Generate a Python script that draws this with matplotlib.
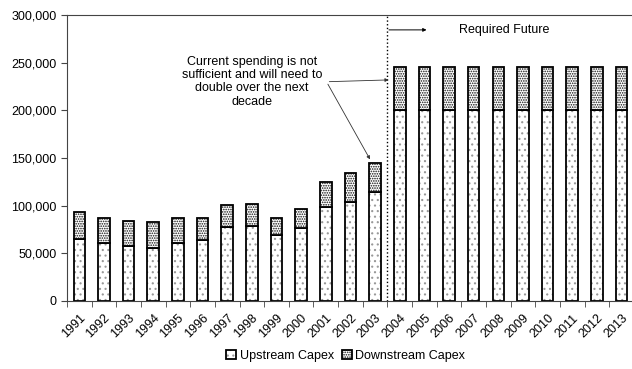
import numpy as np
import matplotlib.pyplot as plt
from matplotlib.ticker import FuncFormatter, MultipleLocator

years = [str(y) for y in range(1991, 2014)]
upstream = [65000, 61000, 58000, 56000, 61000, 64000, 78000, 79000, 69000, 77000, 99000, 104000, 114000,
            200000, 200000, 200000, 200000, 200000, 200000, 200000, 200000, 200000, 200000]
downstream = [28000, 26000, 26000, 27000, 26000, 23000, 23000, 23000, 18000, 20000, 26000, 30000, 31000,
              45000, 45000, 45000, 45000, 45000, 45000, 45000, 45000, 45000, 45000]

plt.rcParams.update({
    "font.family": ["Liberation Sans", "DejaVu Sans"],
    "font.size": 9,
    "hatch.linewidth": 0.8,
})

fig = plt.figure(figsize=(6.32, 3.69), dpi=100)
ax = fig.add_axes([0.106, 0.1843, 0.897, 0.775])

x = np.arange(len(years))
w = 0.47
# hatch takes the edge colour, so fill with a grey-edged layer and outline on top
up_fill = ax.bar(x, upstream, w, color="white", edgecolor="#999999", linewidth=0, hatch="...")
up_line = ax.bar(x, upstream, w, fill=False, edgecolor="black", linewidth=1.3)
dn_fill = ax.bar(x, downstream, w, bottom=upstream, color="white", edgecolor="#111111", linewidth=0,
                 hatch=".......")
dn_line = ax.bar(x, downstream, w, bottom=upstream, fill=False, edgecolor="black", linewidth=1.3)

ax.set_xlim(-0.5, len(years) - 0.5)
ax.set_ylim(0, 300000)
ax.yaxis.set_major_locator(MultipleLocator(50000))
ax.yaxis.set_major_formatter(FuncFormatter(lambda v, p: f"{int(v):,}"))

# category labels at centres, tick marks on the boundaries
ax.set_xticks(x)
ax.set_xticklabels(years, rotation=45, ha="right", rotation_mode="anchor")
ax.tick_params(axis="x", which="major", length=0, pad=8)
ax.set_xticks(np.arange(-0.5, len(years), 1), minor=True)
ax.tick_params(axis="x", which="minor", length=4, color="#444444")
ax.tick_params(axis="y", length=4, color="#444444")

for side in ["left", "bottom", "top"]:
    ax.spines[side].set_color("#444444")
ax.spines["right"].set_visible(False)

# split between history and forecast
ax.axvline(12.5, color="black", linestyle=":", linewidth=1)

ax.annotate("", xy=(14.2, 284400), xytext=(12.45, 284400),
            arrowprops=dict(arrowstyle="-|>", lw=0.7, color="black", mutation_scale=5))
ax.text(15.4, 284400, "Required Future", ha="left", va="center")

ax.text(7.0, 230000, "Current spending is not\nsufficient and will need to\ndouble over the next\ndecade",
        ha="center", va="center", linespacing=1.15)
ax.annotate("", xy=(12.66, 232000), xytext=(10.03, 230000),
            arrowprops=dict(arrowstyle="-|>", lw=0.6, color="#333333", mutation_scale=5))
ax.annotate("", xy=(11.85, 146000), xytext=(10.03, 230000),
            arrowprops=dict(arrowstyle="-|>", lw=0.6, color="#333333", mutation_scale=5))

fig.legend([(up_fill, up_line), (dn_fill, dn_line)], ["Upstream Capex", "Downstream Capex"],
           loc="center", bbox_to_anchor=(0.547, 0.036), ncol=2, frameon=False,
           handlelength=0.8, handleheight=0.8, handletextpad=0.3, columnspacing=0.6)

fig.savefig("out.png", dpi=100)
